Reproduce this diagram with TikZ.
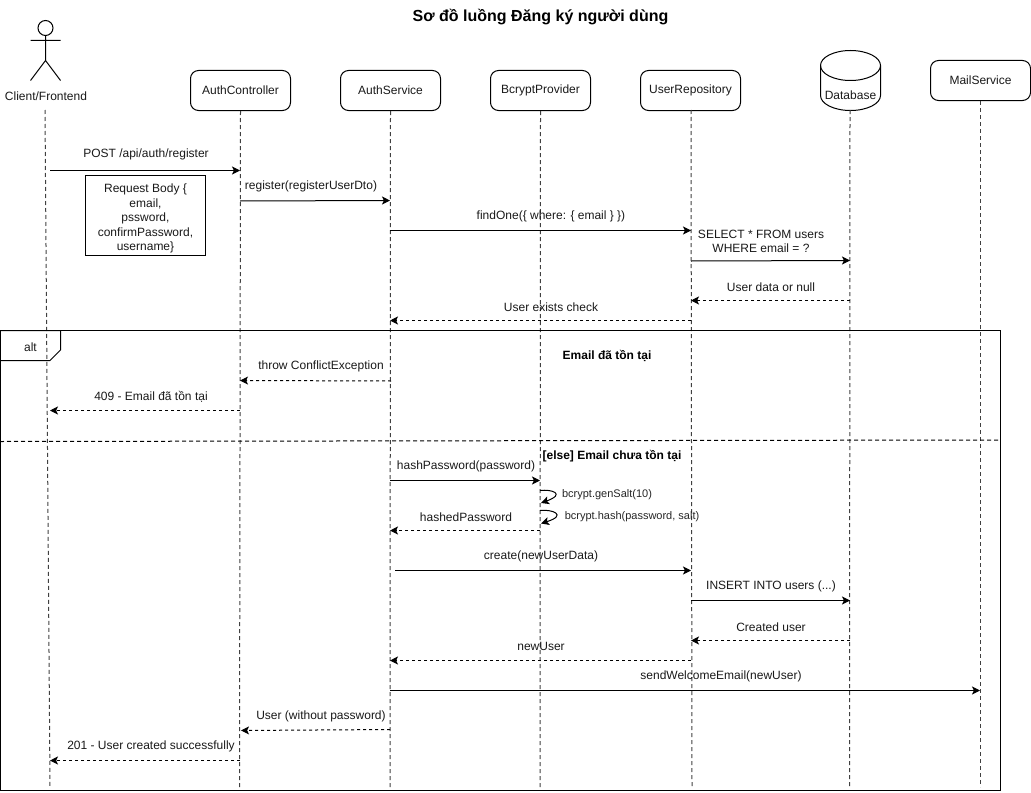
\documentclass[tikz,border=0pt]{standalone}
\usepackage{fontspec}
\setmainfont{Liberation Sans}
\usetikzlibrary{arrows.meta}
\newcommand{\msgline}[7]{%
  \coordinate (#1-a) at (#3);
  \coordinate (#1-b) at (#4);
  \draw[#2] (#1-a) -- (#1-b);
  \node[lbl] (#1-t) at (#5) {#7};
}
\tikzset{
  lbl/.style={inner sep=0pt,yshift=-0.6pt,font=\fontsize{9}{10.5}\selectfont,text=black!90,align=center},
  small/.style={inner sep=0pt,font=\fontsize{8.25}{10}\selectfont,text=black!85},
  strong/.style={inner sep=0pt,yshift=-0.6pt,font=\fontsize{9}{10.5}\selectfont\bfseries},
  head/.style={-{Stealth[length=6pt,width=6pt,inset=1.4pt]}},
  call/.style={head,line width=0.75pt},
  reply/.style={head,line width=0.75pt,dash pattern=on 2.25pt off 2.25pt},
  life/.style={draw=black!75,line width=0.75pt,dash pattern=on 3pt off 2.25pt},
  part/.style={draw,rounded corners=6pt,line width=0.75pt,minimum width=75pt,minimum height=30pt,inner sep=0pt,font=\fontsize{9}{10.5}\selectfont,text=black!90},
  outline/.style={line width=0.75pt},
}
\begin{document}
\begin{tikzpicture}[x=0.75pt,y=-0.75pt]
\useasboundingbox (0,0) rectangle (1031,792);
\node[inner sep=0pt,font=\fontsize{12}{14}\selectfont\bfseries] (title) at (540.5,17) {Sơ đồ luồng Đăng ký người dùng};
% participants
\node[part] (ctrl) at (240.5,90.5) {AuthController};
\node[part] (svc) at (390.5,90.5) {AuthService};
\node[part] (bcr) at (540.5,90.5) {BcryptProvider};
\node[part] (repo) at (690.5,90.5) {UserRepository};
\node[part] (mail) at (980.5,80.5) {MailService};
% actor
\node[draw,circle,minimum size=11.25pt,inner sep=0pt,line width=0.75pt] (head) at (45.5,28) {};
\coordinate (hip) at (45.5,60.5);
\coordinate (armL) at (30.5,40.5);
\coordinate (armR) at (60.5,40.5);
\coordinate (legL) at (30.5,80.5);
\coordinate (legR) at (60.5,80.5);
\draw[outline] (head.south) -- (hip) (armL) -- (armR) (legL) -- (hip) -- (legR);
\node[lbl] (cli) at (46,95) {Client/Frontend};
% database
\draw[outline] (820.5,65.5) arc[x radius=30,y radius=15,start angle=180,end angle=360] -- (880.5,95.5)
  arc[x radius=30,y radius=15,start angle=0,end angle=180] -- cycle;
\draw[outline] (820.5,65.5) arc[x radius=30,y radius=15,start angle=180,end angle=0];
\node[lbl] (db) at (850.5,94) {Database};
% lifelines
\coordinate (cliTop) at (45,110);   \coordinate (cliEnd) at (50,787);
\coordinate (ctrlEnd) at (239.5,787);
\coordinate (svcEnd) at (390,787);
\coordinate (bcrEnd) at (540,787);
\coordinate (repoTop) at (691,110); \coordinate (repoEnd) at (692,787);
\coordinate (dbTop) at (850,110);   \coordinate (dbEnd) at (849.5,787);
\coordinate (mailEnd) at (980.5,787);
\draw[life] (cliTop) -- (cliEnd);
\draw[life] (ctrl.south) -- (ctrlEnd);
\draw[life] (svc.south) -- (svcEnd);
\draw[life] (bcr.south) -- (bcrEnd);
\draw[life] (repoTop) -- (repoEnd);
\draw[life] (dbTop) -- (dbEnd);
\draw[life] (mail.south) -- (mailEnd);
% frame
\draw[outline] (0.5,330.5) rectangle (1000.5,790.5);
\draw[outline] (0.5,330.5) -- (60.5,330.5) -- (60.5,350) -- (50,360.5) -- (0.5,360.5);
\node[lbl] (alt) at (30.5,346) {alt};
\coordinate (divL) at (0,441.5);
\coordinate (divR) at (1000,440);
\draw[outline,dash pattern=on 3pt off 2.25pt] (divL) -- (divR);
\node[strong] (c1) at (607,355) {Email đã tồn tại};
\node[strong] (c2) at (612,455) {[else] Email chưa tồn tại};
% note
\node[draw,line width=0.75pt,minimum width=90pt,minimum height=60pt,inner sep=0pt,font=\fontsize{9}{10.9}\selectfont,align=center,text=black!90] (note) at (145.5,215.5)
  {\rule{0pt}{11pt}Request Body \{\\email,\\pssword,\\confirmPassword,\\username\}};
% messages
\msgline{m1}{call}{50,170.5}{240,170.5}{146,154}{}{POST /api/auth/register}
\msgline{m2}{call}{240,201}{390,200.5}{311,186}{}{register(registerUserDto)}
\msgline{m3}{call}{390,230.5}{691,230.5}{551,216}{}{findOne(\{ where: \{ email \} \})}
\msgline{m4}{call}{691,261}{850,260.5}{761,241}{}{SELECT * FROM users\\WHERE email = ?}
\msgline{m5}{reply}{850,300.5}{691,300.5}{771,286}{}{User data or null}
\msgline{m6}{reply}{691,320.5}{390,320.5}{551,306}{}{User exists check}
\msgline{m7}{reply}{391,381}{240,380.5}{321,366}{}{throw ConflictException}
\msgline{m8}{reply}{240,410.5}{50,410.5}{151,396}{}{409 - Email đã tồn tại}
\msgline{m9}{call}{390,480.5}{540,480.5}{466,466}{}{hashPassword(password)}
\msgline{m10}{reply}{540,530.5}{390,530.5}{466,516}{}{hashedPassword}
\msgline{m11}{call}{395,570.5}{691,570.5}{541,556}{}{create(newUserData)}
\msgline{m12}{call}{691,600.5}{850,600.5}{771,586}{}{INSERT INTO users (...)}
\msgline{m13}{reply}{850,640.5}{691,640.5}{771,626}{}{Created user}
\msgline{m14}{reply}{691,660.5}{390,660.5}{541,646}{}{newUser}
\msgline{m15}{call}{390,690.5}{980,690.5}{721,676}{}{sendWelcomeEmail(newUser)}
\msgline{m16}{reply}{390,729.5}{241,730.5}{321,716}{}{User (without password)}
\msgline{m17}{reply}{240,760.5}{50,760.5}{151,746}{}{201 - User created successfully}
% self calls
\coordinate (s1a) at (540,490.5);
\coordinate (s1b) at (541,503);
\draw[call] (s1a) .. controls (552,489) and (566,494) .. (s1b);
\node[small] (s1t) at (607,495) {bcrypt.genSalt(10)};
\coordinate (s2a) at (540,510.5);
\coordinate (s2b) at (541,523.5);
\draw[call] (s2a) .. controls (552,509) and (568,515) .. (s2b);
\node[small] (s2t) at (632,517) {bcrypt.hash(password, salt)};
\end{tikzpicture}
\end{document}
